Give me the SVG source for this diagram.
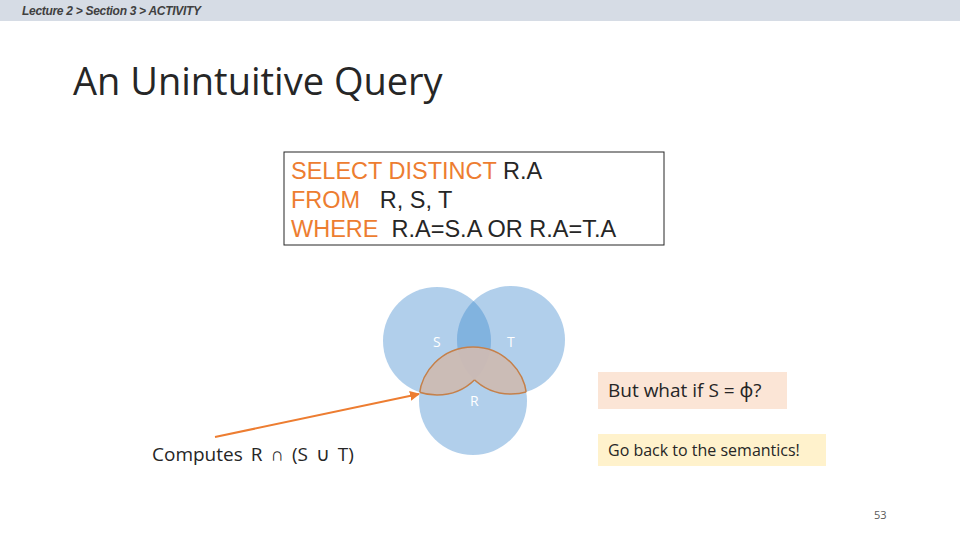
<svg xmlns="http://www.w3.org/2000/svg" width="960" height="540" viewBox="0 0 960 540">
<style>
.k{fill:#ed7d31}.d{fill:#262626}
.sql{font-family:"Liberation Sans",Arial,sans-serif;font-size:23.5px;white-space:pre}
.c{font-family:"Open Sans","Noto Sans",sans-serif}
.lbl{font-family:"Open Sans",sans-serif;font-size:14px;fill:#fff}
.edge{fill:none;stroke:#c5804a;stroke-width:1.5}
</style>
<defs>
<clipPath id="st"><circle cx="437" cy="341" r="54"/><circle cx="511" cy="340" r="54"/></clipPath>
<clipPath id="sOnly"><circle cx="437" cy="341" r="54"/></clipPath>
<clipPath id="rOnly"><circle cx="473" cy="401" r="54"/></clipPath>
<clipPath id="notS"><path d="M0 0H960V540H0Z M383 341a54 54 0 1 0 108 0a54 54 0 1 0 -108 0Z" clip-rule="evenodd"/></clipPath>
<clipPath id="notT"><path d="M0 0H960V540H0Z M457 340a54 54 0 1 0 108 0a54 54 0 1 0 -108 0Z" clip-rule="evenodd"/></clipPath>
<marker id="ah" viewBox="0 0 10 10" refX="9" refY="5" markerWidth="5" markerHeight="5" orient="auto"><path d="M0 0L10 5L0 10z" fill="#ed7d31"/></marker>
</defs>
<rect width="960" height="540" fill="#fff"/>
<rect width="960" height="21" fill="#d6dce5"/>
<text x="22" y="15" font-family="Liberation Sans,sans-serif" font-size="12" font-style="italic" font-weight="bold" fill="#404040" letter-spacing="-0.3">Lecture 2 &gt; Section 3 &gt; ACTIVITY</text>
<text x="73" y="95" class="c" font-size="38" fill="#262626">An Unintuitive Query</text>
<g id="sql">
<rect x="284" y="152" width="380" height="93" fill="#fff" stroke="#262626" stroke-width="1"/>
<text class="sql" x="291" y="179"><tspan class="k">SELECT DISTINCT</tspan><tspan class="d"> R.A</tspan></text>
<text class="sql" x="291" y="208"><tspan class="k">FROM</tspan><tspan class="d">   R, S, T</tspan></text>
<text class="sql" x="291" y="237"><tspan class="k">WHERE</tspan><tspan class="d">  R.A=S.A OR R.A=T.A</tspan></text>
</g>
<g id="venn">
<circle cx="437" cy="341" r="54" fill="#9dc3e6" fill-opacity="0.8"/>
<circle cx="511" cy="340" r="54" fill="#9dc3e6" fill-opacity="0.8"/>
<circle cx="511" cy="340" r="54" fill="#5b9bd5" fill-opacity="0.45" clip-path="url(#sOnly)"/>
<circle cx="473" cy="401" r="54" fill="#9dc3e6" fill-opacity="0.8"/>
<g clip-path="url(#st)">
<circle cx="473" cy="401" r="54" fill="#d9b8a6" fill-opacity="0.75"/>
<circle cx="473" cy="401" r="54" class="edge"/>
</g>
<g clip-path="url(#rOnly)">
<circle cx="437" cy="341" r="54" class="edge" clip-path="url(#notT)"/>
<circle cx="511" cy="340" r="54" class="edge" clip-path="url(#notS)"/>
</g>
<text class="lbl" x="433" y="347">S</text>
<text class="lbl" x="507" y="347">T</text>
<text class="lbl" x="470" y="406">R</text>
</g>
<g id="connectors">
<line x1="215" y1="437" x2="419" y2="394" stroke="#ed7d31" stroke-width="2" marker-end="url(#ah)"/>
</g>
<g id="computes"><text x="152" y="461" class="c" font-size="19" fill="#262626" word-spacing="3">Computes R ∩ (S ∪ T)</text></g>
<g id="callout1"><rect x="598" y="372" width="189" height="37" fill="#fbe5d6"/>
<text x="608" y="397" class="c" font-size="19" fill="#262626">But what if S = ϕ?</text></g>
<g id="callout2"><rect x="598" y="434" width="228" height="32" fill="#fff2cc"/>
<text x="608" y="456" class="c" font-size="16" fill="#262626">Go back to the semantics!</text></g>
<text x="874" y="519" class="c" font-size="11" fill="#595959">53</text>
</svg>
